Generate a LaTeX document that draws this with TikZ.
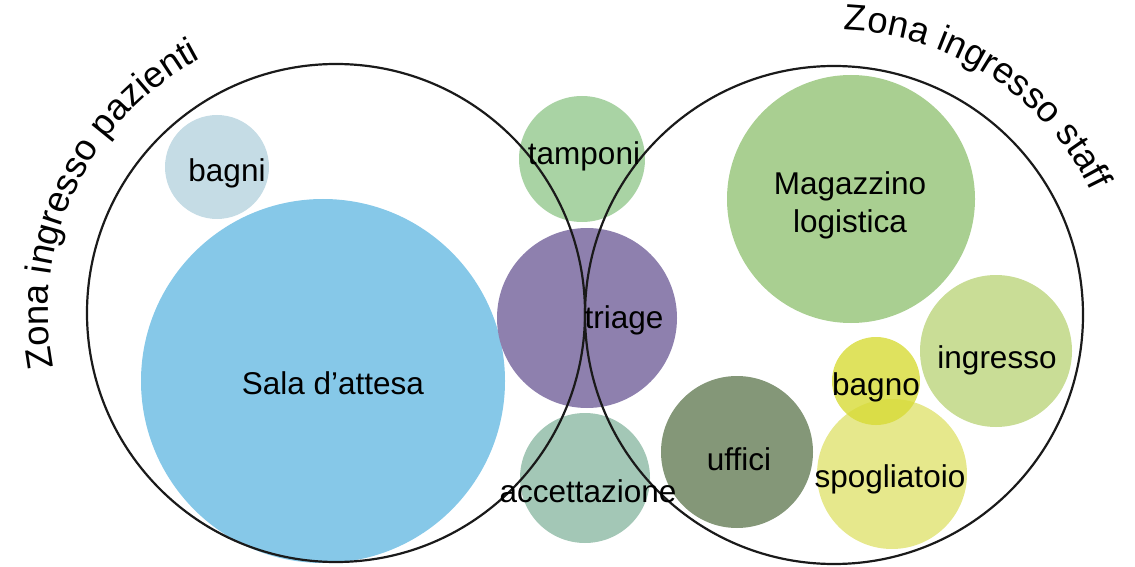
\documentclass[tikz,border=0pt]{standalone}
\usepackage{fontspec}
\setmainfont{Liberation Sans}
\usetikzlibrary{decorations.text}

\definecolor{zoneline}{HTML}{1A1A1A}
\definecolor{cBagni}{HTML}{C5DCE5}
\definecolor{cSala}{HTML}{86C8E8}
\definecolor{cTamponi}{HTML}{A9D3A4}
\definecolor{cTriage}{HTML}{8E80AE}
\definecolor{cAccett}{HTML}{A3C7B6}
\definecolor{cMagazz}{HTML}{A9CF91}
\definecolor{cIngresso}{HTML}{C9DD96}
\definecolor{cBagno}{HTML}{D7DB36}
\definecolor{cSpogl}{HTML}{E6E88C}
\definecolor{cUffici}{HTML}{849778}

\newcommand\zonefont{\fontsize{36.5}{42}\selectfont}

\begin{document}
\begin{tikzpicture}[x=1pt,y=1pt,
  bubble/.style={circle, inner sep=0pt, outer sep=0pt, draw=none},
  zone/.style={circle, inner sep=0pt, draw=zoneline, line width=2.2pt, fill=none},
  lbl/.style={anchor=base, inner sep=0pt, font=\fontsize{31.5}{37}\selectfont, text=black}]
\useasboundingbox (0,0) rectangle (1135,566);

% rooms of the patient area
\node[bubble, fill=cBagni,  minimum size=104pt] (bagni) at (217,399) {};
\node[bubble, fill=cSala,   minimum size=364pt] (sala)  at (323,185) {};

% shared rooms between the two areas
\node[bubble, fill=cTamponi, minimum size=126pt] (tamponi) at (582,407) {};
\node[bubble, fill=cTriage,  minimum size=180pt] (triage)  at (587,248) {};
\node[bubble, fill=cAccett,  minimum size=130pt] (accett)  at (585,88) {};

% rooms of the staff area
\node[bubble, fill=cMagazz,   minimum size=248pt] (magazz)   at (851,367) {};
\node[bubble, fill=cIngresso, minimum size=152pt] (ingresso) at (996,215) {};
\node[bubble, fill=cSpogl,    minimum size=150pt] (spogl)    at (892,92) {};
\node[bubble, fill=cBagno, fill opacity=0.8, minimum size=88pt] (bagno) at (876,185) {};
\node[bubble, fill=cUffici,   minimum size=152pt] (uffici)   at (737,114) {};

% the two zones
\node[zone, minimum size=498pt] (zonaP) at (336,253) {};
\node[zone, minimum size=498pt] (zonaS) at (834,251) {};

% zone titles set along arcs around each zone
\path[decorate, decoration={text along path, text align=left,
      text={|\zonefont|Zona ingresso pazienti}}]
  ([shift={(191:288)}]336,253) arc[start angle=191, end angle=100, radius=288];
\path[decorate, decoration={text along path, text align=left,
      text={|\zonefont|Zona ingresso staff}}]
  ([shift={(88:285)}]834,251) arc[start angle=88, end angle=5, radius=285];

% room labels
\node[lbl] (bagniT)   at (227,384) {bagni};
\node[lbl] (salaT)    at (333,172) {Sala d’attesa};
\node[lbl] (tamponiT) at (584,401) {tamponi};
\node[lbl] (triageT)  at (624,238) {triage};
\node[lbl] (accettT)  at (588,64)  {accettazione};
\node[lbl] (magazzT)  at (850,371) {Magazzino};
\node[lbl] (logistT)  at (850,334) {logistica};
\node[lbl] (ingressoT) at (997,198) {ingresso};
\node[lbl] (bagnoT)   at (876,171) {bagno};
\node[lbl] (spoglT)   at (890,79)  {spogliatoio};
\node[lbl] (ufficiT)  at (739,96)  {uffici};
\end{tikzpicture}
\end{document}
